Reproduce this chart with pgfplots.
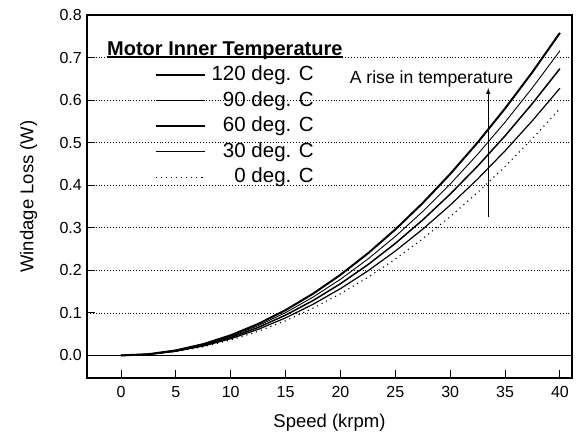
\documentclass[border=0pt]{standalone}
\usepackage{fontspec}
\setmainfont{Liberation Sans}
\usepackage{pgfplots}
\pgfplotsset{compat=1.18}
\begin{document}
\begin{tikzpicture}[x=1pt,y=1pt]
\path[use as bounding box] (0,0) rectangle (576,434);
\begin{axis}[
  at={(87pt,56pt)}, anchor=south west,
  scale only axis, width=485pt, height=363pt,
  xmin=-3.1, xmax=41.1, ymin=-0.053, ymax=0.8,
  xtick={0,5,10,15,20,25,30,35,40},
  ytick={0,0.1,0.2,0.3,0.4,0.5,0.6,0.7,0.8},
  yticklabel style={xshift=-1.7pt, /pgf/number format/fixed, /pgf/number format/fixed zerofill, /pgf/number format/precision=1},
  /pgf/number format/assume math mode=true,
  tick label style={font=\fontsize{16}{19}\selectfont},
  xticklabel style={yshift=-5pt},
  tick align=inside, tick pos=left,
  major tick length=8pt,
  every tick/.style={black, line width=1pt},
  ymajorgrids,
  grid style={black, line width=0.6pt, dash pattern=on 0.7pt off 2.2pt},
  axis line style={line width=1.2pt},
  xlabel={Speed (krpm)}, ylabel={Windage Loss (W)},
  label style={font=\fontsize{18.5}{22}\selectfont},
  xlabel style={at={(axis description cs:0.5,-0.1377)}, anchor=base},
  ylabel style={at={(axis description cs:-0.1107,0.5)}, anchor=base},
  legend style={at={(axis description cs:0.468,0.861)}, anchor=north east,
    draw=none, fill=none, font=\fontsize{20.5}{24}\selectfont,
    inner sep=0pt, row sep=6.5pt, column sep=6pt,
    nodes={inner sep=0pt, text height=15pt, text depth=4pt}},
  legend cell align=right,
  legend image code/.code={\draw[#1] (0pt,0pt) -- (49pt,0pt);},
]
\addplot[black, line width=2pt] coordinates {
(0,0) (2.5,0.00296) (5,0.01184) (7.5,0.02665) (10,0.04738) (12.5,0.07402)
(15,0.10659) (17.5,0.14509) (20,0.18950) (22.5,0.23984) (25,0.29609)
(27.5,0.35828) (30,0.42638) (32.5,0.50040) (35,0.58034) (37.5,0.66621) (40,0.758)};
\addlegendentry{120 deg. C}
\addplot[black, line width=0.9pt] coordinates {
(0,0) (2.5,0.00280) (5,0.01119) (7.5,0.02517) (10,0.04475) (12.5,0.06992)
(15,0.10069) (17.5,0.13705) (20,0.17900) (22.5,0.22655) (25,0.27969)
(27.5,0.33842) (30,0.40275) (32.5,0.47267) (35,0.54819) (37.5,0.62930) (40,0.716)};
\addlegendentry{90 deg. C}
\addplot[black, line width=1.5pt] coordinates {
(0,0) (2.5,0.00263) (5,0.01053) (7.5,0.02370) (10,0.04213) (12.5,0.06582)
(15,0.09478) (17.5,0.12901) (20,0.16850) (22.5,0.21326) (25,0.26328)
(27.5,0.31857) (30,0.37913) (32.5,0.44494) (35,0.51603) (37.5,0.59238) (40,0.674)};
\addlegendentry{60 deg. C}
\addplot[black, line width=1.2pt] coordinates {
(0,0) (2.5,0.00245) (5,0.00981) (7.5,0.02208) (10,0.03925) (12.5,0.06133)
(15,0.08831) (17.5,0.12020) (20,0.15700) (22.5,0.19870) (25,0.24531)
(27.5,0.29683) (30,0.35325) (32.5,0.41458) (35,0.48081) (37.5,0.55195) (40,0.628)};
\addlegendentry{30 deg. C}
\addplot[black, line width=1.1pt, dash pattern=on 1.1pt off 4pt] coordinates {
(0,0) (2.5,0.00227) (5,0.00906) (7.5,0.02039) (10,0.03625) (12.5,0.05664)
(15,0.08156) (17.5,0.11102) (20,0.14500) (22.5,0.18352) (25,0.22656)
(27.5,0.27414) (30,0.32625) (32.5,0.38289) (35,0.44406) (37.5,0.50977) (40,0.580)};
\addlegendentry{0 deg. C}
\draw[black, line width=1.3pt] (axis cs:-3.1,0) -- (axis cs:41.1,0);
\draw[black, line width=1pt, -latex] (axis cs:33.47,0.325) -- (axis cs:33.47,0.628);
\end{axis}
\node[anchor=base west, inner sep=0pt, font=\bfseries\fontsize{20}{24}\selectfont] (T) at (107,378.8) {Motor Inner Temperature};
\draw[line width=1.3pt] ([yshift=-1.8pt]T.base west) -- ([yshift=-1.8pt]T.base east);
\node[anchor=base, inner sep=0pt, font=\fontsize{17.6}{21}\selectfont] at (431.5,350.7) {A rise in temperature};
\end{tikzpicture}
\end{document}
